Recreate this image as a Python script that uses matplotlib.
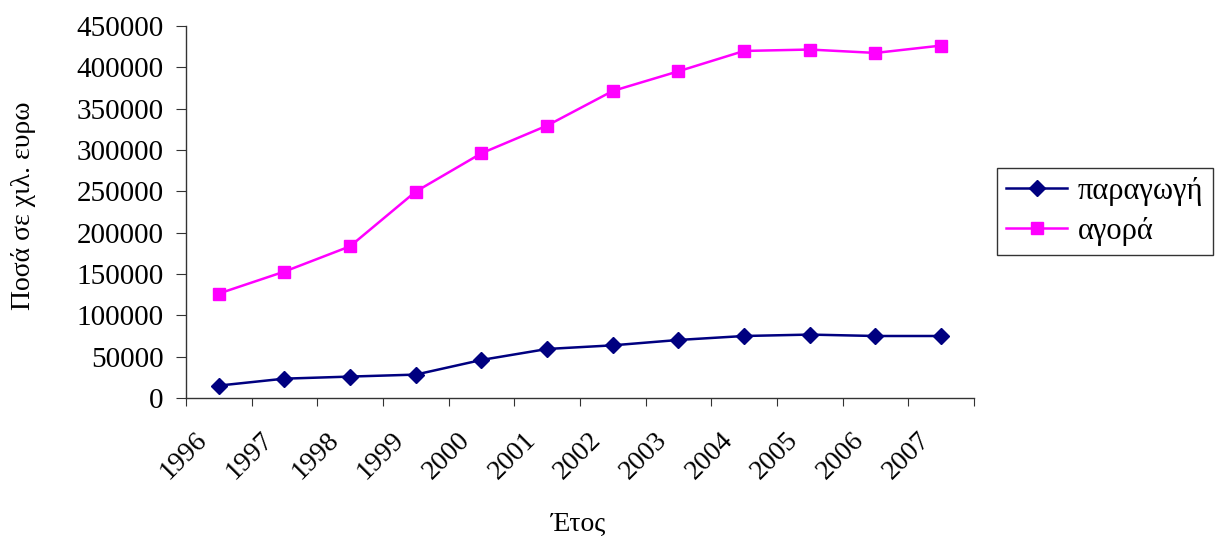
import matplotlib
matplotlib.use("Agg")
import matplotlib.pyplot as plt
from matplotlib.transforms import ScaledTranslation
import numpy as np

years = ["1996", "1997", "1998", "1999", "2000", "2001",
         "2002", "2003", "2004", "2005", "2006", "2007"]
paragogi = [15000, 23400, 25900, 28300, 46000, 59300,
            63700, 70200, 75000, 76700, 75000, 75000]
agora = [126300, 152900, 183500, 249700, 296000, 329500,
         371400, 395200, 419800, 421500, 417400, 426300]
y_ticks = [0, 50000, 100000, 150000, 200000, 250000,
           300000, 350000, 400000, 450000]

serif = ["Liberation Serif", "DejaVu Serif"]
plt.rcParams["font.family"] = serif

fig = plt.figure(figsize=(12.15, 5.39), dpi=100)
ax = fig.add_axes([0.153, 0.2616, 0.6486, 0.6902])

x = np.arange(len(years)) + 0.5
l1, = ax.plot(x, paragogi, color="#000080", lw=1.8, marker="D",
              markersize=8, markerfacecolor="#000080", markeredgecolor="#000080",
              label="παραγωγή")
l2, = ax.plot(x, agora, color="#FF00FF", lw=1.8, marker="s",
              markersize=9, markerfacecolor="#FF00FF", markeredgecolor="#FF00FF",
              label="αγορά")

ax.set_xlim(0, len(years))
ax.set_ylim(0, 450000)
ax.set_yticks(y_ticks)
ax.set_yticklabels([str(v) for v in y_ticks], fontsize=21)

# category boundaries carry the tick marks, labels sit at the centres
ax.set_xticks(np.arange(len(years) + 1))
ax.set_xticklabels([])
ax.set_xticks(x, minor=True)
ax.set_xticklabels(years, minor=True, rotation=45, ha="right",
                   rotation_mode="anchor", fontsize=20)
ax.tick_params(axis="x", which="minor", length=0, pad=21)
ax.tick_params(axis="x", which="major", length=6, direction="out", color="#333333")
ax.tick_params(axis="y", length=7, direction="out", color="#333333", pad=9)
shift = ScaledTranslation(-24 / 100, 0, fig.dpi_scale_trans)
for lab in ax.get_xticklabels(minor=True):
    lab.set_transform(lab.get_transform() + shift)

for s in ("top", "right"):
    ax.spines[s].set_visible(False)
for s in ("left", "bottom"):
    ax.spines[s].set_color("#333333")
    ax.spines[s].set_linewidth(1.0)

fig.text(0.4765, 0.003, "Έτος", ha="center", va="bottom", fontsize=20)
fig.text(0.019, 0.618, "Ποσά σε χιλ. ευρω", rotation=90, ha="center",
         va="center", fontsize=20)

leg = fig.legend(handles=[l1, l2], loc="upper left",
                 bbox_to_anchor=(0.8206, 0.6883),
                 prop={"family": serif, "size": 22}, frameon=True,
                 fancybox=False, edgecolor="black", handlelength=2.0,
                 borderpad=0.3, labelspacing=0.35, handletextpad=0.35,
                 borderaxespad=0)
leg.get_frame().set_linewidth(1.0)

fig.savefig("out.png", dpi=100)
